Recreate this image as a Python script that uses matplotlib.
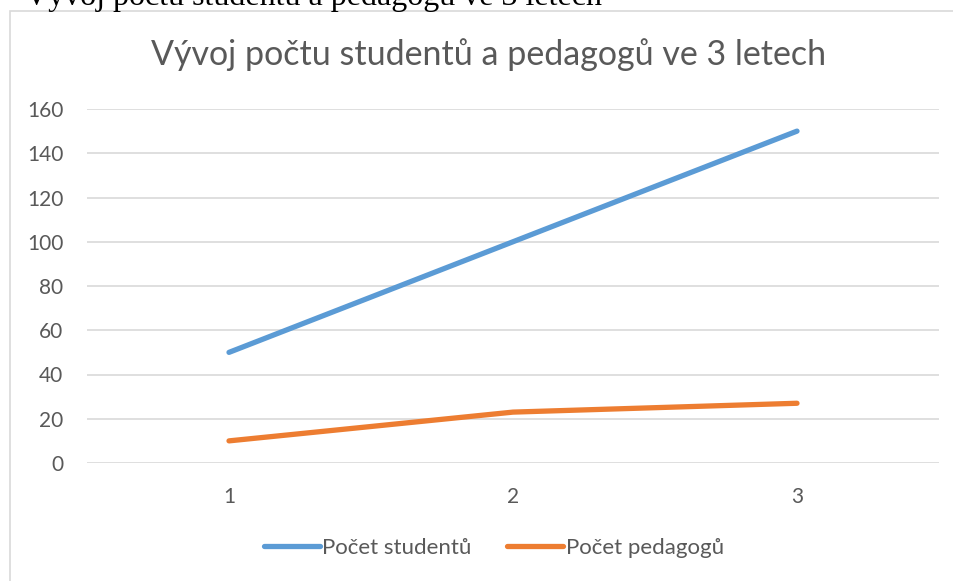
import matplotlib.pyplot as plt
from matplotlib.patches import Rectangle

# data
roky = [1, 2, 3]
studenti = [50, 100, 150]
pedagogove = [10, 23, 27]
nazev = 'Vývoj počtu studentů a pedagogů ve 3 letech'

plt.rcParams['font.family'] = ['Lato', 'DejaVu Sans']

W, H = 954, 581
fig = plt.figure(figsize=(W / 100, H / 100), dpi=100)

# oříznutý popisek z dokumentu nahoře
fig.text(25 / W, 1 - 5 / H, nazev, family='Liberation Serif', fontsize=23,
         color='black', ha='left', va='baseline')

# rámeček grafu (přesahuje vpravo a dole)
fig.patches.append(Rectangle((10 / W, -0.1), 1.2, 1 - 11 / H + 0.1,
                             transform=fig.transFigure, fill=False,
                             edgecolor='#d9d9d9', linewidth=1.2))

ax = fig.add_axes([87 / W, 1 - 463 / H, (939 - 87) / W, (463 - 109) / H])

ax.plot(roky, studenti, color='#5B9BD5', lw=3.8, solid_capstyle='round',
        label='Počet studentů')
ax.plot(roky, pedagogove, color='#ED7D31', lw=3.8, solid_capstyle='round',
        label='Počet pedagogů')

ax.set_xlim(0.5, 3.5)
ax.set_ylim(0, 160)
ax.set_xticks(roky)
ax.set_yticks(range(0, 161, 20))
ax.grid(axis='y', color='#d9d9d9', lw=1.2)
ax.set_axisbelow(True)
for s in ax.spines.values():
    s.set_visible(False)
ax.tick_params(length=0, labelsize=15, colors='#595959')
ax.tick_params(axis='y', pad=17)
ax.tick_params(axis='x', pad=17)

fig.text(489 / W, 1 - 55 / H, nazev, fontsize=24.5, color='#595959',
         ha='center', va='center')

ax.legend(loc='center', bbox_to_anchor=(494 / W, 1 - 548 / H),
          bbox_transform=fig.transFigure, ncol=2, frameon=False,
          fontsize=16, labelcolor='#595959', handlelength=2.5,
          handletextpad=0.12, columnspacing=1.6)

fig.savefig('out.png', dpi=100)
